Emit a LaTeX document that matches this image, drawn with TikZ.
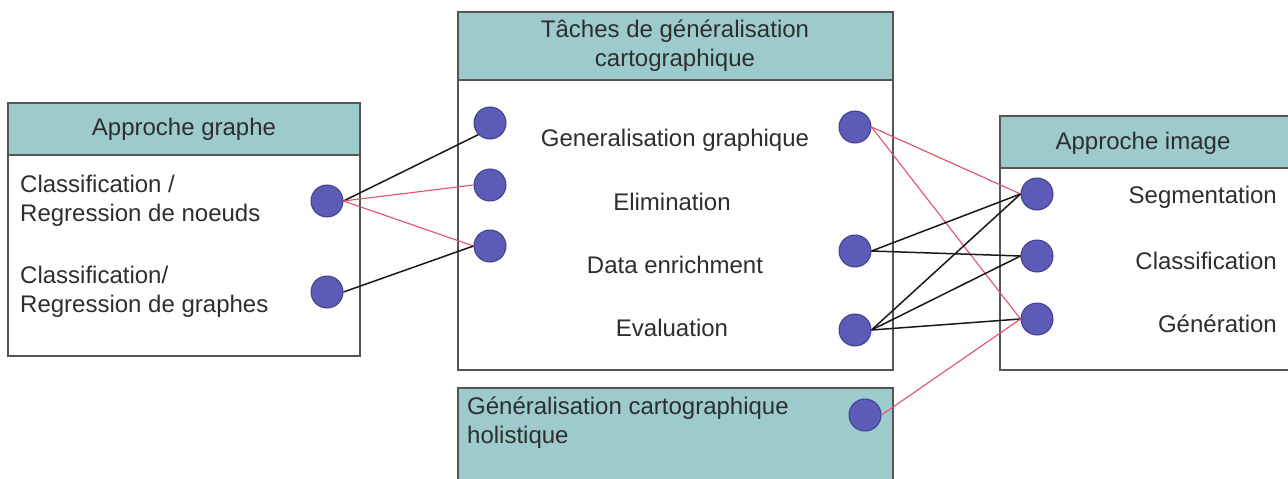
\documentclass[tikz,border=0pt]{standalone}
\usepackage{fontspec}
\setmainfont{Liberation Sans}
\usetikzlibrary{backgrounds}
\definecolor{hdr}{HTML}{9DCBCB}
\definecolor{dot}{HTML}{5C5CB8}
\definecolor{dotb}{HTML}{3F3F8A}
\definecolor{pinkline}{HTML}{E2506E}
\definecolor{frame}{HTML}{555555}
\definecolor{txt}{HTML}{2E2E2E}
\begin{document}
\begin{tikzpicture}[x=1pt,y=-1pt,
 dotn/.style={circle,fill=dot,draw=dotb,line width=1pt,minimum size=32pt,inner sep=0pt},
 lbl/.style={font=\fontsize{24}{29}\selectfont,text=txt,inner sep=0pt},
 blk/.style={draw=black!90,line width=1.5pt},
 rd/.style={draw=pinkline,line width=1.1pt},
 boxframe/.style={draw=frame,line width=1.5pt},
 hdrbox/.style={fill=hdr,draw=frame,line width=1.5pt},
]
\useasboundingbox (0,0) rectangle (1288,479);
\fill[white] (0,0) rectangle (1288,479);

% left box
\draw[boxframe,fill=white] (8,103) rectangle (360,356);
\draw[hdrbox] (8,103) rectangle (360,155);
\node[lbl] (hl) at (184,129) {Approche graphe};
\node[lbl,anchor=west,align=left] (tl1) at (20,201) {Classification /\\Regression de noeuds};
\node[lbl,anchor=west,align=left] (tl2) at (20,292) {Classification/\\Regression de graphes};

% middle box
\draw[boxframe,fill=white] (458,12) rectangle (893,370);
\draw[hdrbox] (458,12) rectangle (893,80);
\node[lbl,align=center] (hm) at (675,46) {Tâches de généralisation\\cartographique};
\node[lbl] (tm1) at (675,140) {Generalisation graphique};
\node[lbl] (tm2) at (672,202) {Elimination};
\node[lbl] (tm3) at (675,265) {Data enrichment};
\node[lbl] (tm4) at (672,328) {Evaluation};

% bottom box
\draw[hdrbox] (458,388) rectangle (893,495);
\node[lbl,anchor=west,align=left] (th) at (467,423) {Généralisation cartographique\\holistique};

% right box
\draw[boxframe,fill=white] (1000,116) rectangle (1300,370);
\draw[hdrbox] (1000,116) rectangle (1300,168);
\node[lbl] (hr) at (1143,143) {Approche image};
\node[lbl,anchor=east] (tr1) at (1277,197) {Segmentation};
\node[lbl,anchor=east] (tr2) at (1277,261) {Classification};
\node[lbl,anchor=east] (tr3) at (1277,324) {Génération};

% connectors (drawn first, dots on top)
\coordinate (L1) at (327,201);
\coordinate (L2) at (327,292);
\coordinate (M1) at (490,123);
\coordinate (M2) at (490,185);
\coordinate (M3) at (490,246);
\coordinate (R1) at (855,127);
\coordinate (R3) at (855,251);
\coordinate (R4) at (855,330);
\coordinate (H) at (865,415);
\coordinate (I1) at (1037,194);
\coordinate (I2) at (1037,256);
\coordinate (I3) at (1037,319);

\node[dotn] (dL1) at (L1) {};
\node[dotn] (dL2) at (L2) {};
\node[dotn] (dM1) at (M1) {};
\node[dotn] (dM2) at (M2) {};
\node[dotn] (dM3) at (M3) {};
\node[dotn] (dR1) at (R1) {};
\node[dotn] (dR3) at (R3) {};
\node[dotn] (dR4) at (R4) {};
\node[dotn] (dH) at (H) {};
\node[dotn] (dI1) at (I1) {};
\node[dotn] (dI2) at (I2) {};
\node[dotn] (dI3) at (I3) {};

\draw[blk] (dL1.east) -- (dM1.south west);
\draw[rd] (dL1.east) -- (dM2.west);
\draw[rd] (dL1.east) -- (dM3.west);
\draw[blk] (dL2.east) -- (dM3.west);
\draw[rd] (dR1.east) -- (dI1.west);
\draw[rd] (dR1.east) -- (dI3.west);
\draw[blk] (dR3.east) -- (dI1.west);
\draw[blk] (dR3.east) -- (dI2.west);
\draw[blk] (dR4.east) -- (dI1.west);
\draw[blk] (dR4.east) -- (dI2.west);
\draw[blk] (dR4.east) -- (dI3.west);
\draw[rd] (dH.east) -- (dI3.west);
\end{tikzpicture}
\end{document}
